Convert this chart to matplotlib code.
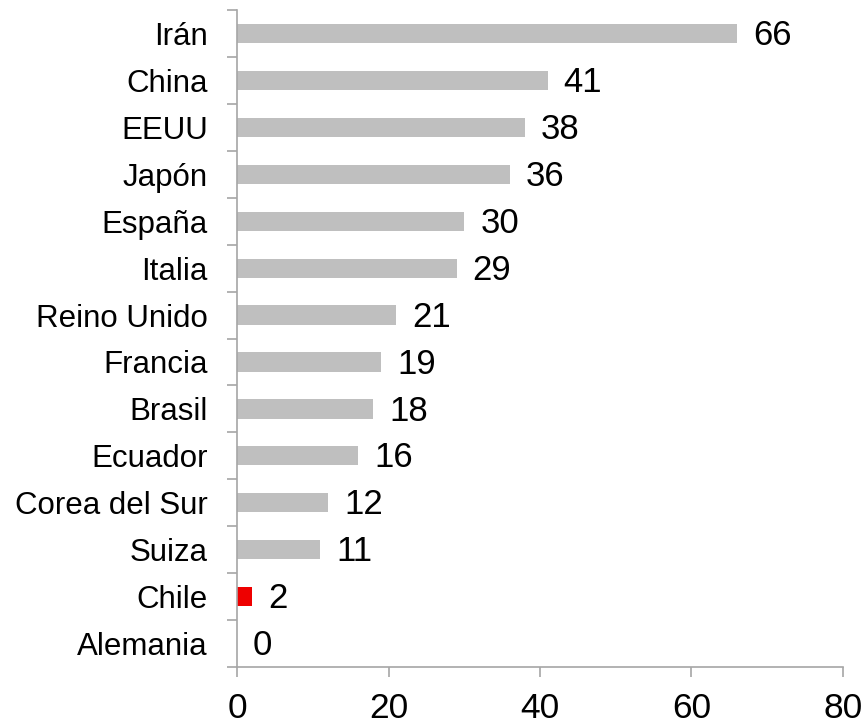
import matplotlib
matplotlib.use("Agg")
import matplotlib.pyplot as plt
import numpy as np

plt.rcParams['font.family'] = ['Liberation Sans', 'DejaVu Sans']

paises = ['Irán', 'China', 'EEUU', 'Japón', 'España', 'Italia', 'Reino Unido',
          'Francia', 'Brasil', 'Ecuador', 'Corea del Sur', 'Suiza', 'Chile', 'Alemania']
valores = [66, 41, 38, 36, 30, 29, 21, 19, 18, 16, 12, 11, 2, 0]
xticks = [0, 20, 40, 60, 80]

gris = '#BFBFBF'
rojo = '#EE0000'
eje = '#A6A6A6'

fig = plt.figure(figsize=(8.66, 7.27), dpi=100)
ax = fig.add_axes([0.2737, 0.0825, 0.6997, 0.9037])

# bottom-to-top order so Irán ends up on top
y = np.arange(len(paises))[::-1]
colores = [rojo if p == 'Chile' else gris for p in paises]
ax.barh(y, valores, height=0.41, color=colores)

for yi, v in zip(y, valores):
    ax.annotate(str(v), (v, yi), xytext=(11.5, -1.5), textcoords='offset points',
                va='center', ha='left', fontsize=25)

ax.set_ylim(-0.5, len(paises) - 0.5)
ax.set_xlim(0, 80)
ax.set_yticks(y)
ax.set_yticklabels(paises, fontsize=22.5)
ax.set_yticks(np.arange(-0.5, len(paises), 1), minor=True)
ax.tick_params(axis='y', which='major', length=0, pad=21)
ax.tick_params(axis='y', which='minor', length=7, width=1.2, color=eje, direction='out')

ax.set_xticks(xticks)
ax.set_xticklabels([str(t) for t in xticks], fontsize=25.5)
ax.tick_params(axis='x', length=7, width=1.2, color=eje, direction='out', pad=11)

for s in ['top', 'right']:
    ax.spines[s].set_visible(False)
for s in ['left', 'bottom']:
    ax.spines[s].set_color(eje)
    ax.spines[s].set_linewidth(1.2)

fig.savefig('out.png', dpi=100)
